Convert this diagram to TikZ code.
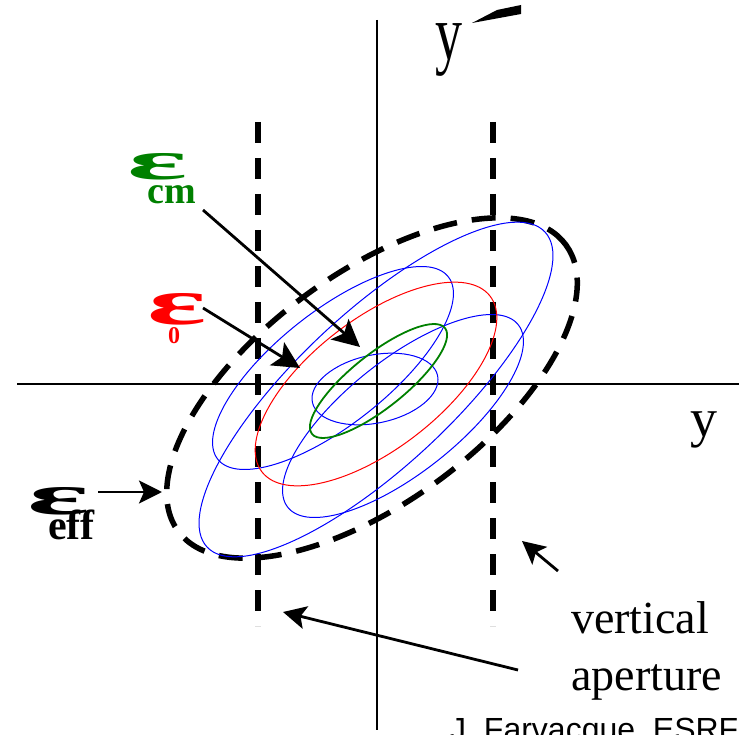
\documentclass[tikz,border=0pt]{standalone}
\usepackage{fontspec}
\setmainfont{Liberation Serif}
\newfontfamily\sansfam{Liberation Sans}
\usetikzlibrary{arrows.meta}
\definecolor{ellblue}{RGB}{0,0,255}
\definecolor{ellred}{RGB}{255,0,0}
\definecolor{ellgreen}{RGB}{0,128,0}
\newcommand{\epsglyph}[2]{\resizebox{#1}{#2}{\bfseries ε}}
\begin{document}
\begin{tikzpicture}[x=1pt,y=-1pt,
  axisline/.style={line width=2.2pt},
  aperline/.style={line width=5.5pt, dash pattern=on 21pt off 15pt},
  effell/.style={line width=5.5pt, dash pattern=on 24pt off 15pt},
  thinell/.style={line width=1pt},
  pointer/.style={line width=2.8pt, -{Stealth[length=27pt,width=27pt,inset=6pt]}},
  smallpointer/.style={line width=2.8pt, -{Stealth[length=23pt,width=23pt,inset=5pt]}},
  biglbl/.style={inner sep=0pt, font=\fontsize{46}{50}\selectfont},
  epsbox/.style={inner sep=0pt, anchor=south west},
  subbox/.style={inner sep=0pt, anchor=base west, font=\bfseries\fontsize{38}{40}\selectfont}]
\useasboundingbox (0,0) rectangle (739,735);

% axes
\coordinate (vtop) at (377,20);
\coordinate (vbot) at (377,730);
\coordinate (hleft) at (17,384);
\coordinate (hright) at (739,384);
\draw[axisline] (vtop) -- (vbot);
\draw[axisline] (hleft) -- (hright);

% aperture lines
\coordinate (apLtop) at (258,122);
\coordinate (apLbot) at (258,626);
\coordinate (apRtop) at (493,122);
\coordinate (apRbot) at (493,626);
\draw[aperline] (apLtop) -- (apLbot);
\draw[aperline] (apRtop) -- (apRbot);

% ellipses
\draw[effell, rotate around={36.5:(372,388)}] (372,388) ellipse [x radius=241pt, y radius=114pt];
\draw[thinell, ellblue, rotate around={43:(376,389.5)}] (376,389.5) ellipse [x radius=231pt, y radius=77pt];
\draw[thinell, ellblue, rotate around={38.4:(333,368)}] (333,368) ellipse [x radius=147pt, y radius=56.5pt];
\draw[thinell, ellblue, rotate around={38.4:(403,416)}] (403,416) ellipse [x radius=147pt, y radius=56.5pt];
\draw[thinell, ellblue, rotate around={12:(375,389)}] (375,389) ellipse [x radius=64pt, y radius=34pt];
\draw[thinell, ellred, rotate around={37.6:(376,384)}] (376,384) ellipse [x radius=144pt, y radius=65pt];
\draw[line width=1.8pt, ellgreen, rotate around={38.5:(378.5,381)}] (378.5,381) ellipse [x radius=85pt, y radius=27pt];

% axis labels
\node[inner sep=0pt, anchor=base west, font=\fontsize{54}{56}\selectfont] (ylab) at (690,436) {y};
\node[inner sep=0pt, anchor=base west, font=\fontsize{54}{56}\selectfont] (yplab) at (435,60) {\scalebox{1}[1.45]{y}};
\fill (472,23) -- (497,10) -- (521,5) -- (521,14) -- cycle;

% epsilon labels
\node[epsbox, text=ellgreen] (epscm) at (127,180) {\epsglyph{60pt}{26pt}};
\node[subbox, text=ellgreen] (subcm) at (147,204) {cm};
\node[epsbox, text=ellred] (epsz) at (147,325) {\epsglyph{59pt}{31pt}};
\node[subbox, text=ellred, font=\bfseries\fontsize{24}{26}\selectfont] (subz) at (168,344) {0};
\node[epsbox] (epseff) at (27,515) {\epsglyph{62pt}{27pt}};
\node[subbox, font=\bfseries\fontsize{42}{44}\selectfont] (subeff) at (48,539) {eff};

% text
\node[biglbl, anchor=base west] (vert) at (571,633) {vertical};
\node[biglbl, anchor=base west] (aper) at (571,690) {aperture};
\node[inner sep=0pt, anchor=base west, font=\sansfam\fontsize{32}{34}\selectfont] (credit) at (450,740) {J. Farvacque, ESRF};

% arrows
\coordinate (cmS) at (203,210);
\coordinate (cmE) at (360,347);
\coordinate (zS) at (203,308);
\coordinate (zE) at (300,368);
\coordinate (effS) at (98,492);
\coordinate (effE) at (162,492);
\coordinate (lrS) at (558,571);
\coordinate (lrE) at (522,541);
\coordinate (apS) at (518,670);
\coordinate (apE) at (283,612);
\draw[pointer] (cmS) -- (cmE);
\draw[pointer] (zS) -- (zE);
\draw[smallpointer] (effS) -- (effE);
\draw[smallpointer] (lrS) -- (lrE);
\draw[smallpointer] (apS) -- (apE);
\end{tikzpicture}
\end{document}
